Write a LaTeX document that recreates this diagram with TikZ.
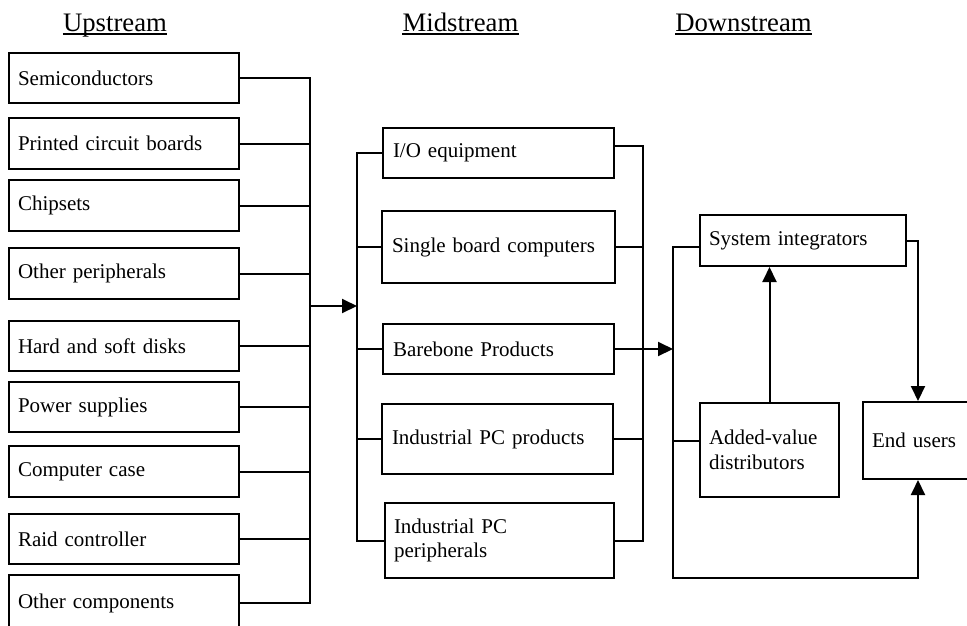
\documentclass[tikz,border=0pt]{standalone}
\usepackage{fontspec}
\setmainfont{Liberation Serif}
\usetikzlibrary{arrows.meta,calc}
\begin{document}
\begin{tikzpicture}[x=1pt,y=-1pt,
  ln/.style={line width=2pt},
  bx/.style={draw, rectangle, line width=2pt, inner xsep=9pt, inner ysep=2pt, align=left,
    font=\fontsize{21}{24.5}\selectfont},
  hd/.style={font=\fontsize{26.7}{30}\selectfont, inner sep=0pt},
  ar/.style={ln, -{Triangle[length=15pt,width=14pt]}}]
\useasboundingbox (0,0) rectangle (967,625);
\clip (0,0) rectangle (967,625);

% headers
\node[hd, anchor=base] (hu) at (115,31) {Upstream};
\node[hd, anchor=base] (hm) at (460.5,31) {Midstream};
\node[hd, anchor=base] (hdn) at (743.5,31) {Downstream};
\foreach \h in {hu,hm,hdn}{
  \draw[line width=1.6pt] ([yshift=-3pt]\h.base west) -- ([yshift=-3pt]\h.base east);
}

% upstream boxes
\node[bx, text width=212pt, minimum height=50pt] (u1) at (124,78) {Semiconductors};
\node[bx, text width=212pt, minimum height=51pt] (u2) at (124,143.5) {Printed circuit boards};
\node[bx, text width=212pt, minimum height=51pt] (u3) at (124,205.5) {Chipsets};
\node[bx, text width=212pt, minimum height=51pt] (u4) at (124,273.5) {Other peripherals};
\node[bx, text width=212pt, minimum height=50pt] (u5) at (124,346) {Hard and soft disks};
\node[bx, text width=212pt, minimum height=50pt] (u6) at (124,407) {Power supplies};
\node[bx, text width=212pt, minimum height=51pt] (u7) at (124,471.5) {Computer case};
\node[bx, text width=212pt, minimum height=50pt] (u8) at (124,539) {Raid controller};
\node[bx, text width=212pt, minimum height=56pt] (u9) at (124,603) {Other components};

\coordinate (ubus) at (310,0);
\coordinate (ua) at (310,306);
\draw[ln] (u1.east) -| (ubus |- u9.east) -- (u9.east);
\foreach \i in {2,...,8}{
  \draw[ln] (u\i.east) -- (u\i.east -| ubus);
}

% midstream boxes
\node[bx, inner xsep=10pt, text width=211pt, minimum height=50pt] (m1) at (498.5,153) {I/O equipment};
\node[bx, inner xsep=10pt, text width=213pt, minimum height=72pt] (m2) at (498.5,247) {Single board computers};
\node[bx, inner xsep=10pt, text width=211pt, minimum height=50pt] (m3) at (498.5,349) {Barebone Products};
\node[bx, inner xsep=10pt, text width=211pt, minimum height=70pt] (m4) at (497.5,439) {Industrial PC products};
\node[bx, inner xsep=9pt, text width=211pt, minimum height=75pt] (m5) at (499.5,540.5) {Industrial PC\\peripherals};

\coordinate (mL) at (357,0);
\coordinate (mR) at (643,0);
\draw[ar] (ua) -- (ua -| mL);
\draw[ln] (m1.west) -| (mL |- m5.west) -- (m5.west);
\draw[ln] ([yshift=7pt]m1.east) -| (mR |- m5.east) -- (m5.east);
\foreach \i in {2,3,4}{
  \draw[ln] (m\i.west) -- (m\i.west -| mL);
  \draw[ln] (m\i.east) -- (m\i.east -| mR);
}

% downstream
\node[bx, text width=188pt, minimum height=51pt] (si) at (803,240.5) {System integrators};
\node[bx, text width=121pt, minimum height=94pt] (av) at (769.5,450) {Added-value\\distributors};
\node[bx, text width=92pt, minimum height=77pt] (eu) at (918,440.5) {End users};

\coordinate (dL) at (673,0);
\coordinate (dB) at (673,578);
\draw[ar] (mR |- m3.east) -- (dL |- m3.east);
\draw[ar] ([yshift=-6.5pt]si.west) -| (dB) -| (eu.south);
\draw[ln] ([yshift=9pt]av.west) -- ([yshift=9pt]av.west -| dL);
\draw[ar] (si.east) -| (eu.north);
\draw[ar] (av.north) -- (si.south -| av.north);
\end{tikzpicture}
\end{document}
